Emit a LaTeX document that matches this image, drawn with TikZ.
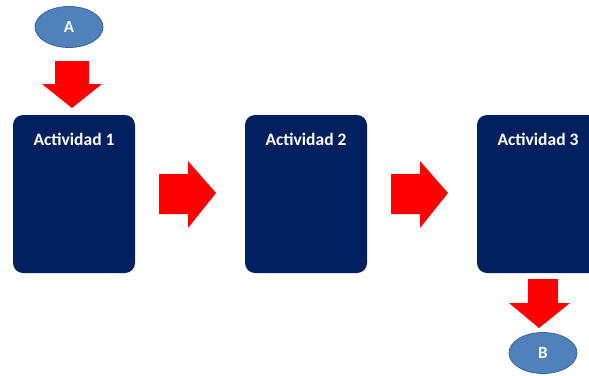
\documentclass[tikz,border=0pt]{standalone}
\usepackage{fontspec}
\setmainfont{Carlito}
\usetikzlibrary{shapes.geometric}
\definecolor{navy}{HTML}{002060}
\definecolor{ellfill}{HTML}{4F81BD}
\definecolor{elldraw}{HTML}{3A6498}
\tikzset{
  actbox/.style={draw=none, fill=navy, rounded corners=10pt, minimum width=122pt, minimum height=158pt, inner sep=0pt},
  acttext/.style={text=white, font=\bfseries\fontsize{17.5}{19}\selectfont, anchor=base, inner sep=0pt},
  terminal/.style={ellipse, draw=elldraw, line width=0.8pt, fill=ellfill, minimum width=68pt, minimum height=41pt, inner sep=0pt, text=white, font=\bfseries\fontsize{17}{19}\selectfont},
  blockarrow/.style={fill=red, draw=none}
}
\begin{document}
\begin{tikzpicture}[x=1pt,y=-1pt]
\useasboundingbox (0,0) rectangle (589,375);
\begin{scope}
\clip (0,0) rectangle (589,375);
\node[actbox] (b1) at (74,194) {};
\node[actbox] (b2) at (306,194) {};
\node[actbox] (b3) at (538,194) {};
\end{scope}
\node[acttext] (t1) at (74,145) {Actividad 1};
\node[acttext] (t2) at (306,145) {Actividad 2};
\node[acttext] (t3) at (538,145) {Actividad 3};
\node[terminal] (A) at (69,27) {A};
\node[terminal] (B) at (543,353) {B};
% down arrow A -> box 1
\fill[blockarrow] (55,61) -- (89,61) -- (89,84) -- (102,84) -- (72,108) -- (42,84) -- (55,84) -- cycle;
% right arrows
\fill[blockarrow] (159,174) -- (188,174) -- (188,161) -- (216,193) -- (188,228) -- (188,214) -- (159,214) -- cycle;
\fill[blockarrow] (391,174) -- (420,174) -- (420,161) -- (448,193) -- (420,228) -- (420,214) -- (391,214) -- cycle;
% down arrow box 3 -> B
\fill[blockarrow] (528,279) -- (558,279) -- (558,303) -- (570,303) -- (539,328) -- (509,303) -- (528,303) -- cycle;
\end{tikzpicture}
\end{document}
